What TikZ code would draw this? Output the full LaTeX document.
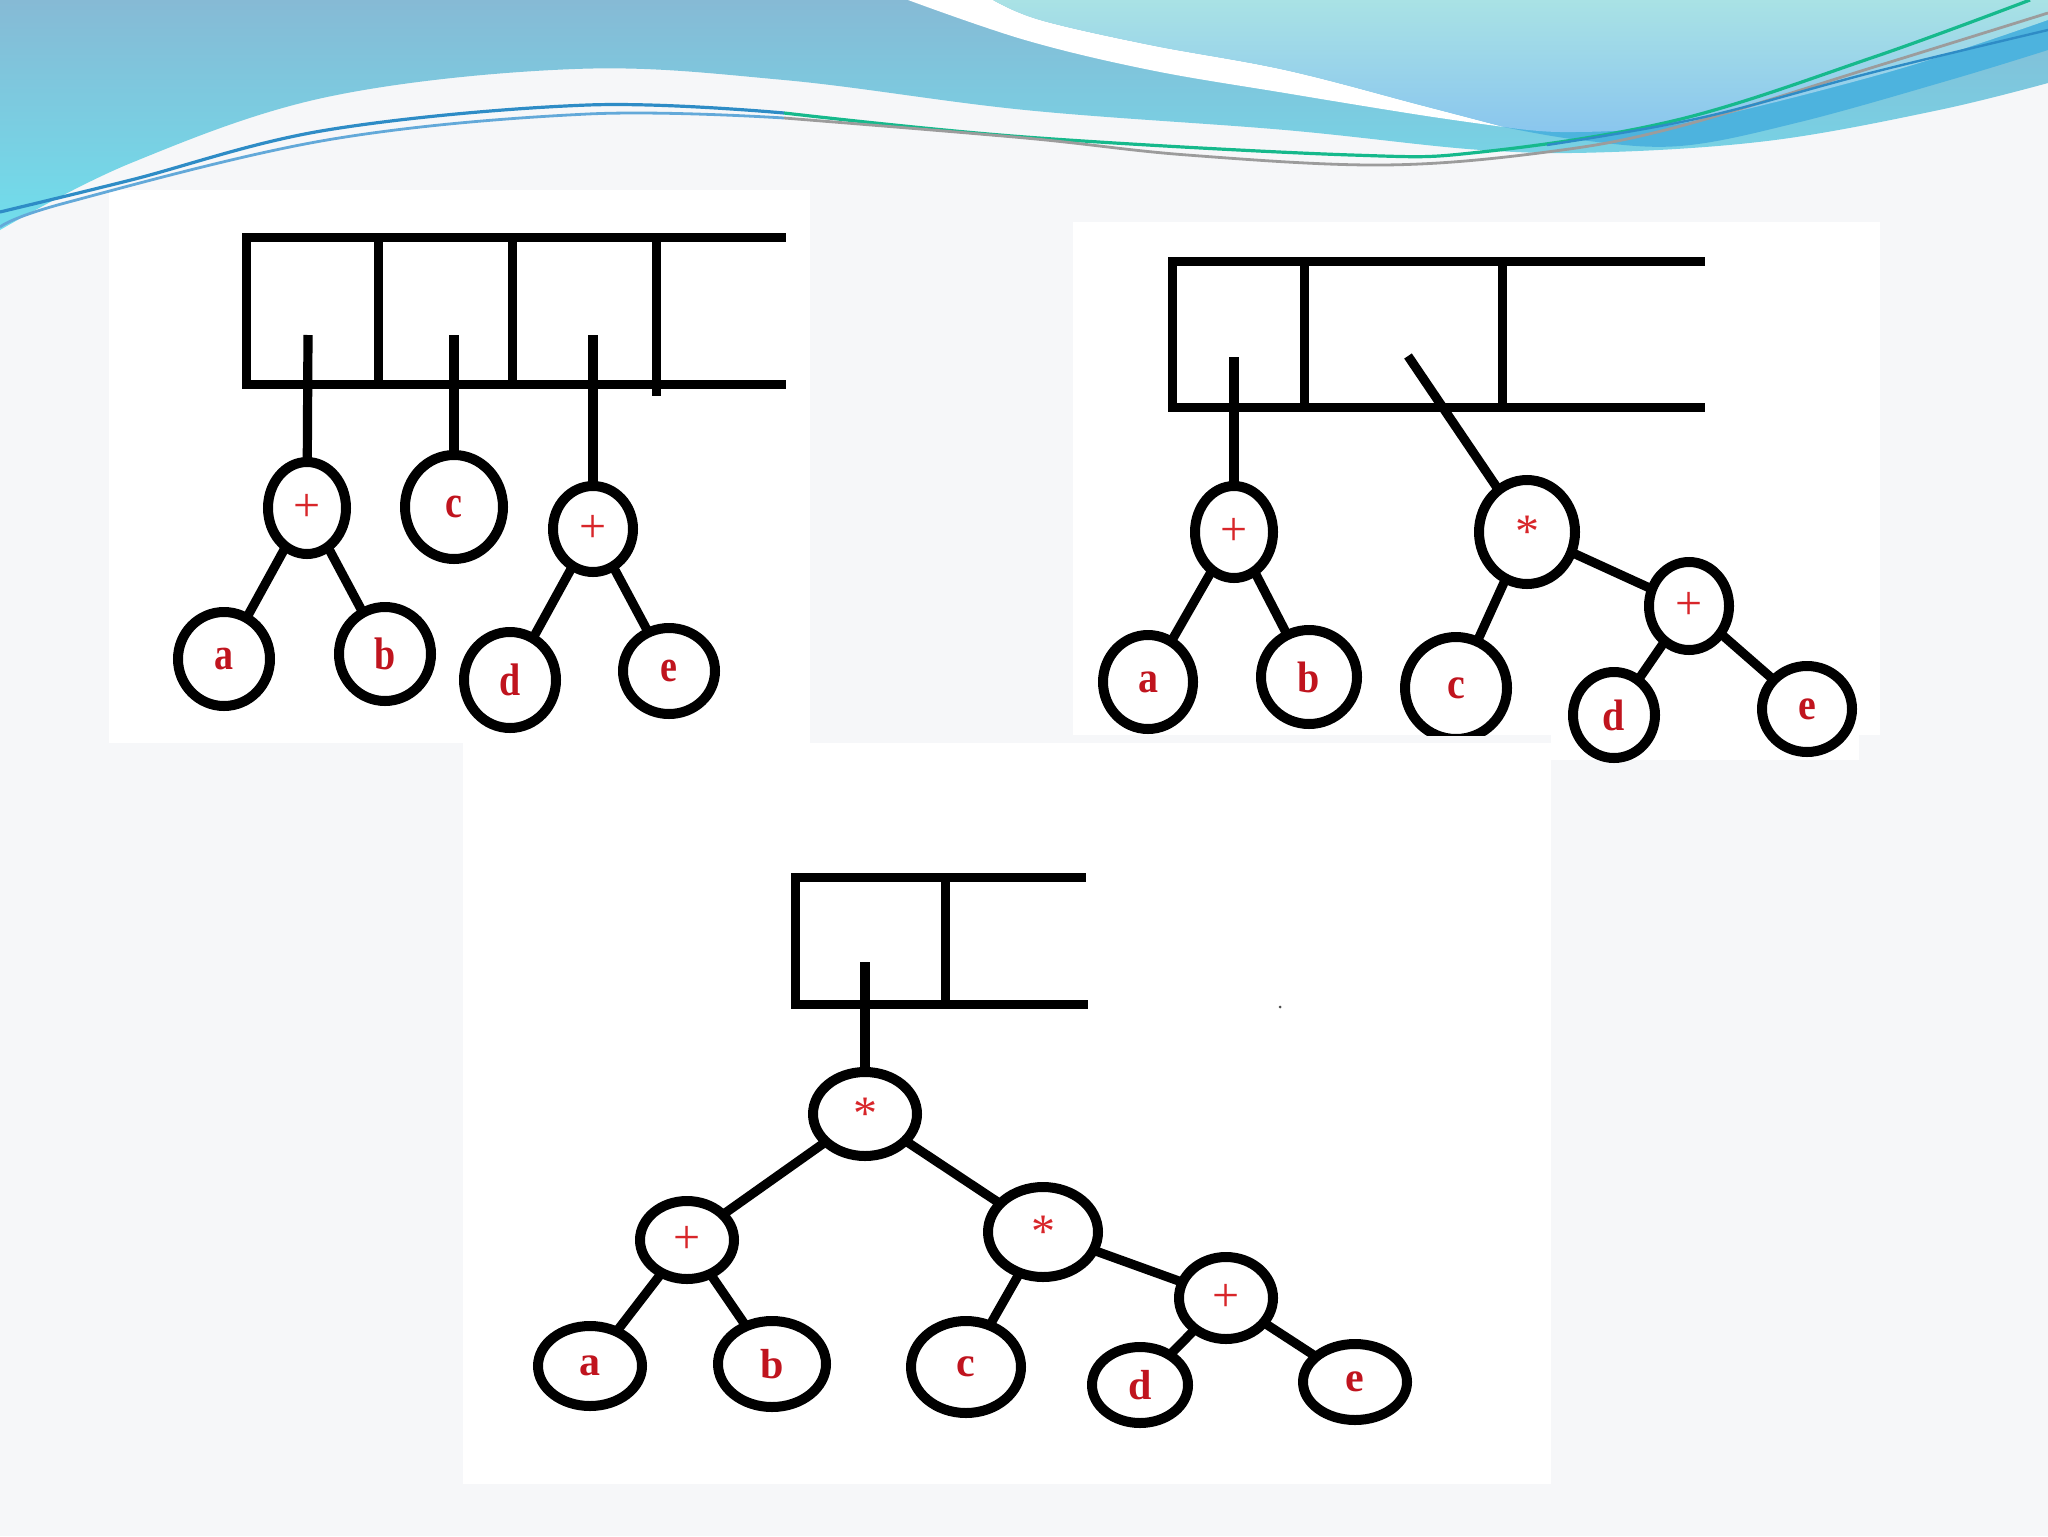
\documentclass[tikz,border=0pt]{standalone}
\usepackage{fontspec}
\setmainfont{Liberation Serif}
\usepackage{graphicx}
\usetikzlibrary{shapes.geometric}
\definecolor{bgc}{HTML}{F6F7F9}
\definecolor{lred}{HTML}{C0141E}
\definecolor{ored}{HTML}{D8262A}
\definecolor{hdtop}{HTML}{86BAD5}
\definecolor{hdbot}{HTML}{70DEEC}
\definecolor{ltop}{HTML}{A9E2E5}
\definecolor{lbot}{HTML}{8AC6EE}
\definecolor{dband}{HTML}{4DB3DE}
\definecolor{lineAa}{HTML}{2E8CC6}
\definecolor{lineAb}{HTML}{16B98C}
\definecolor{lineBa}{HTML}{63A9D9}
\definecolor{lineBb}{HTML}{9C9C9C}
\newcommand\txA[1]{\scalebox{1}[1.2]{\fontsize{19}{19}\selectfont\bfseries\color{lred}#1}}
\newcommand\txB[1]{\scalebox{1}[1.1]{\fontsize{20}{20}\selectfont\bfseries\color{lred}#1}}
\newcommand\txC[1]{\scalebox{1}[1.0]{\fontsize{21}{21}\selectfont\bfseries\color{lred}#1}}
\newcommand\txO[1]{{\fontsize{24}{24}\selectfont\color{ored}#1}}
\begin{document}
\begin{tikzpicture}[x=0.5pt,y=-0.5pt,
  ov/.style 2 args={ellipse, draw=black, line width=5pt, fill=white, inner sep=0pt, outer sep=0pt,
    minimum width={(#1-2)*1pt}, minimum height={(#2-4)*1pt}},
  qframe/.style={line width=4.5pt, line join=miter, line cap=rect},
  tedge/.style={line width=4.6pt}]
\useasboundingbox (0,0) rectangle (2048,1536);
\fill[bgc] (0,0) rectangle (2048,1536);
% panels
\fill[white] (109,190) rectangle (810,743);
\fill[white] (1073,222) rectangle (1880,735);
\fill[white] (1551,735) rectangle (1859,760);
\fill[white] (463,743) rectangle (1551,1484);
% header
\shade[top color=hdtop, bottom color=hdbot] (0,0) -- (0,230) -- plot[smooth, tension=0.6] coordinates {(0,230) (131,163) (327,97) (575,69) (784,80) (1025,110) (1285,130) (1481,150) (1612,152) (1775,140) (1939,110) (2048,83)} -- (2048,0) -- cycle;
\fill[white] (908,0) -- plot[smooth, tension=0.6] coordinates {(908,0) (1025,40) (1150,70) (1285,93) (1420,115) (1504,127)} -- plot[smooth, tension=0.6] coordinates {(1504,127) (1420,105) (1285,70) (1150,45) (1040,20) (993,0)} -- cycle;
\fill[dband] (1504,127) -- plot[smooth, tension=0.6] coordinates {(1504,127) (1580,140) (1680,146) (1800,122) (1950,80) (2048,50)} -- (2048,10) -- cycle;
\shade[top color=ltop, bottom color=lbot] (993,0) -- plot[smooth, tension=0.6] coordinates {(993,0) (1040,20) (1150,45) (1285,70) (1420,105) (1504,127)} -- plot[smooth, tension=0.6] coordinates {(1504,127) (1560,132) (1650,128) (1743,110) (1906,67) (2048,20)} -- (2048,0) -- cycle;
\draw[lineAa, line width=1.6pt] plot[smooth, tension=0.6] coordinates {(0,212) (131,180) (327,130) (588,105) (784,113)};
\draw[lineAb, line width=1.6pt] plot[smooth, tension=0.6] coordinates {(784,113) (1025,137) (1351,155) (1481,152) (1677,120) (1874,57) (2030,0)};
\draw[lineBa, line width=1.4pt] plot[smooth, tension=0.6] coordinates {(0,227) (65,203) (327,140) (588,114) (784,118)};
\draw[lineBb, line width=1.4pt] plot[smooth, tension=0.6] coordinates {(784,118) (1025,138) (1187,155) (1383,165) (1547,152) (1677,127) (1874,67) (2048,13)};
\draw[lineAa, line width=1.2pt] plot[smooth, tension=0.6] coordinates {(1547,145) (1700,118) (1874,72) (2048,30)};

% ===== diagram 1 =====
\draw[qframe] (781,237) -- (246,237) -- (246,384) -- (781,384);
\draw[qframe] (378,237) -- (378,384);
\draw[qframe] (512,237) -- (512,384);
\draw[qframe] (656,237) -- (656,391);
\coordinate (q1) at (308,335);
\coordinate (q2) at (454,335);
\coordinate (q3) at (593,335);
\node[ov={41}{50}] (P1) at (307,508) {\txO{+}};
\node[ov={51}{56}] (C1) at (454,507) {\txA{c}};
\node[ov={42}{47}] (P2) at (593,529) {\txO{+}};
\node[ov={48}{51}] (A1) at (224,659) {\txA{a}};
\node[ov={48}{51}] (B1) at (385,654) {\txA{b}};
\node[ov={48}{52}] (D1) at (510,680) {\txA{d}};
\node[ov={48}{47}] (E1) at (669,671) {\txA{e}};
\draw[tedge] (q1) -- (P1);
\draw[tedge] (q2) -- (C1);
\draw[tedge] (q3) -- (P2);
\draw[tedge] (P1) -- (A1);
\draw[tedge] (P1) -- (B1);
\draw[tedge] (P2) -- (D1);
\draw[tedge] (P2) -- (E1);

% ===== diagram 2 =====
\draw[qframe] (1700,261) -- (1172,261) -- (1172,407) -- (1700,407);
\draw[qframe] (1304,261) -- (1304,407);
\draw[qframe] (1502,261) -- (1502,407);
\coordinate (q4) at (1234,357);
\coordinate (q5) at (1408,356);
\node[ov={41}{50}] (P3) at (1234,532) {\txO{+}};
\node[ov={50}{56}] (S1) at (1527,532) {\txO{*}};
\node[ov={42}{48}] (P4) at (1689,606) {\txO{+}};
\node[ov={47}{51}] (A2) at (1148,682) {\txB{a}};
\node[ov={50}{51}] (B2) at (1309,677) {\txB{b}};
\begin{scope}
\clip (1380,600) rectangle (1540,735);
\node[ov={53}{55}] (C2) at (1456,688) {\txB{c}};
\end{scope}
\node[ov={43}{47}] (D2) at (1614,715) {\txB{d}};
\node[ov={47}{47}] (E2) at (1807,709) {\txB{e}};
\draw[tedge] (q4) -- (P3);
\draw[tedge] (q5) -- (S1);
\draw[tedge] (P3) -- (A2);
\draw[tedge] (P3) -- (B2);
\draw[tedge] (S1) -- (C2);
\draw[tedge] (S1) -- (P4);
\draw[tedge] (P4) -- (D2);
\draw[tedge] (P4) -- (E2);

% ===== diagram 3 =====
\draw[qframe] (1081,877) -- (795,877) -- (795,1004) -- (1083,1004);
\draw[qframe] (945,877) -- (945,1004);
\coordinate (q6) at (865,962);
\node[ov={54}{46}] (R3) at (865,1114) {\txO{*}};
\node[ov={49}{43}] (P5) at (687,1240) {\txO{+}};
\node[ov={57}{49}] (S2) at (1043,1232) {\txO{*}};
\node[ov={49}{45}] (P6) at (1226,1298) {\txO{+}};
\node[ov={54}{44}] (A3) at (590,1366) {\txC{a}};
\node[ov={56}{47}] (B3) at (772,1364) {\txC{b}};
\node[ov={57}{50}] (C3) at (966,1367) {\txC{c}};
\node[ov={50}{42}] (D3) at (1140,1385) {\txC{d}};
\node[ov={54}{42}] (E3) at (1355,1382) {\txC{e}};
\draw[tedge] (q6) -- (R3);
\draw[tedge] (R3) -- (P5);
\draw[tedge] (R3) -- (S2);
\draw[tedge] (P5) -- (A3);
\draw[tedge] (P5) -- (B3);
\draw[tedge] (S2) -- (C3);
\draw[tedge] (S2) -- (P6);
\draw[tedge] (P6) -- (D3);
\draw[tedge] (P6) -- (E3);
\fill[black!70] (1280,1007) circle (1.5);
\end{tikzpicture}
\end{document}
